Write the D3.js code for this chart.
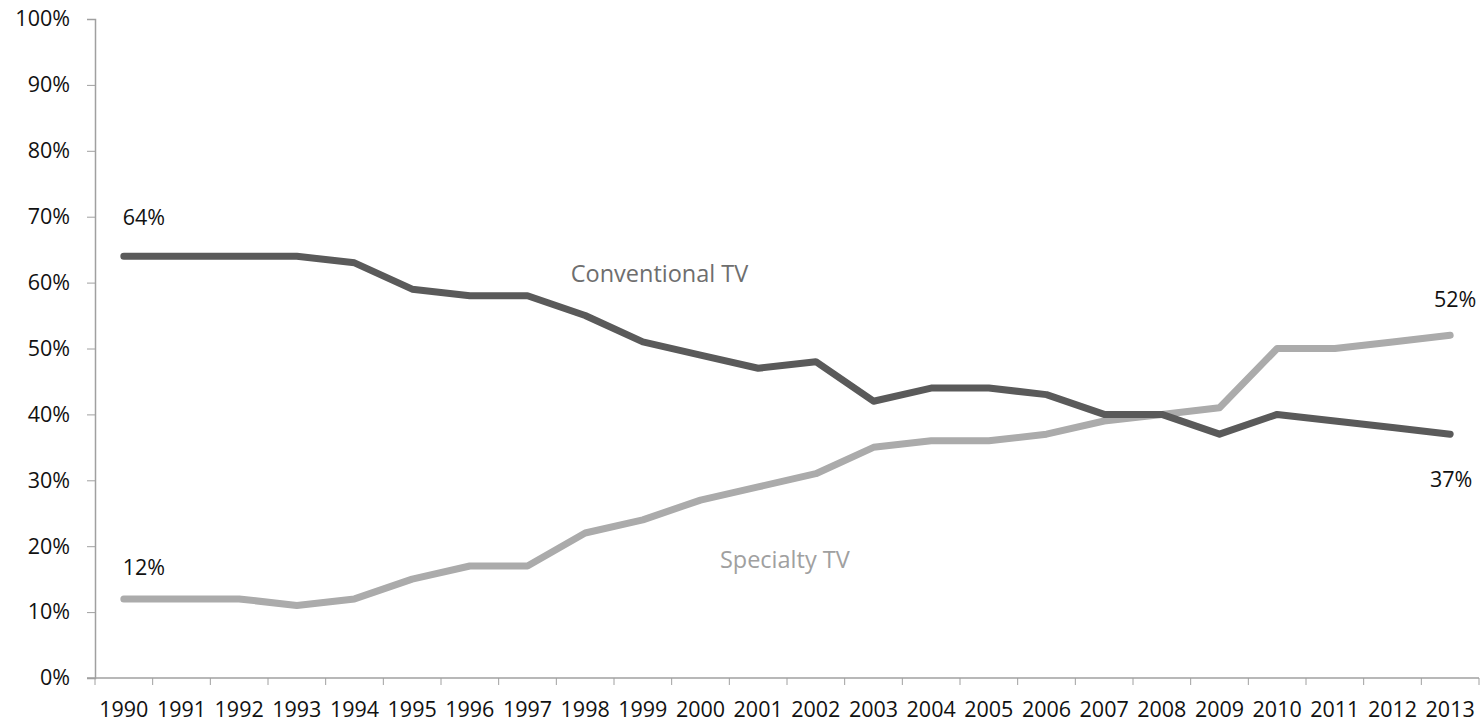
<!DOCTYPE html>
<html>
<head>
<meta charset="utf-8">
<script src="https://cdn.jsdelivr.net/npm/d3@7"></script>
<style>
  body { margin: 0; background: #fff; }
  text { font-family: "Open Sans", sans-serif; }
</style>
</head>
<body>
<div class="chart"></div>
<script>
const years = ["1990","1991","1992","1993","1994","1995","1996","1997","1998","1999","2000","2001",
               "2002","2003","2004","2005","2006","2007","2008","2009","2010","2011","2012","2013"];
const conventional = [64,64,64,64,63,59,58,58,55,51,49,47,48,42,44,44,43,40,40,37,40,39,38,37];
const specialty = [12,12,12,11,12,15,17,17,22,24,27,29,31,35,36,36,37,39,40,41,50,50,51,52];
const yTicks = [0,10,20,30,40,50,60,70,80,90,100];

const width = 1483, height = 724;
const margin = { left: 95, right: 4, top: 19, bottom: 46 };
const fontSize = 21.5;

const svg = d3.select(".chart").append("svg")
	.attr("width", width)
	.attr("height", height);

const x = d3.scaleBand()
	.domain(years)
	.range([margin.left, width - margin.right]);

const y = d3.scaleLinear()
	.domain([0, 100])
	.range([height - margin.bottom, margin.top]);

const cx = (d) => x(d) + x.bandwidth() / 2;

// y axis
const yAxis = svg.append("g")
	.attr("transform", `translate(${margin.left},0)`)
	.call(d3.axisLeft(y).tickValues(yTicks).tickSize(8).tickPadding(17).tickFormat((d) => d + "%"));
yAxis.select(".domain").attr("stroke", "#a0a0a0").attr("stroke-width", 1.5);
yAxis.selectAll(".tick line").attr("stroke", "#a0a0a0");
yAxis.selectAll(".tick text").attr("font-size", fontSize).attr("fill", "#111");

// x axis, ticks sit between the categories
const xAxis = svg.append("g")
	.attr("transform", `translate(0,${height - margin.bottom})`);
xAxis.append("line")
	.attr("x1", margin.left - 8).attr("x2", width - margin.right)
	.attr("stroke", "#a0a0a0").attr("stroke-width", 1.5);
xAxis.selectAll(".xtick")
	.data(years.concat(["end"])).enter()
	.append("line")
		.attr("x1", (d, i) => i < years.length ? x(d) : x.range()[1])
		.attr("x2", (d, i) => i < years.length ? x(d) : x.range()[1])
		.attr("y1", 0).attr("y2", 7)
		.attr("stroke", "#a0a0a0");
xAxis.selectAll(".xlabel")
	.data(years).enter()
	.append("text")
		.attr("x", cx)
		.attr("y", 39)
		.attr("text-anchor", "middle")
		.attr("font-size", fontSize)
		.attr("fill", "#111")
		.text((d) => d);

const line = d3.line()
	.x((d, i) => cx(years[i]))
	.y((d) => y(d));

svg.append("path")
	.datum(specialty)
	.attr("d", line)
	.attr("fill", "none")
	.attr("stroke", "#ababab")
	.attr("stroke-width", 7)
	.attr("stroke-linecap", "round")
	.attr("stroke-linejoin", "round");

svg.append("path")
	.datum(conventional)
	.attr("d", line)
	.attr("fill", "none")
	.attr("stroke", "#5a5a5a")
	.attr("stroke-width", 7)
	.attr("stroke-linecap", "round")
	.attr("stroke-linejoin", "round");

// end point value labels
const last = years.length - 1;
const valueLabels = [
	{ t: conventional[0] + "%", x: cx(years[0]) + 20, y: y(conventional[0]) - 31 },
	{ t: specialty[0] + "%", x: cx(years[0]) + 20, y: y(specialty[0]) - 24 },
	{ t: specialty[last] + "%", x: cx(years[last]) + 5, y: y(specialty[last]) - 28 },
	{ t: conventional[last] + "%", x: cx(years[last]) + 1, y: y(conventional[last]) + 53 }
];
svg.selectAll(".value")
	.data(valueLabels).enter()
	.append("text")
		.attr("x", (d) => d.x)
		.attr("y", (d) => d.y)
		.attr("text-anchor", "middle")
		.attr("font-size", fontSize)
		.attr("fill", "#111")
		.text((d) => d.t);

// series names
svg.append("text")
	.attr("x", cx("2000") - 41)
	.attr("y", y(60) - 1)
	.attr("text-anchor", "middle")
	.attr("font-size", 23.5)
	.attr("fill", "#6e6e6e")
	.text("Conventional TV");

svg.append("text")
	.attr("x", cx("2002") - 31)
	.attr("y", y(16) - 5)
	.attr("text-anchor", "middle")
	.attr("font-size", 23.5)
	.attr("fill", "#a0a0a0")
	.text("Specialty TV");
</script>
</body>
</html>
